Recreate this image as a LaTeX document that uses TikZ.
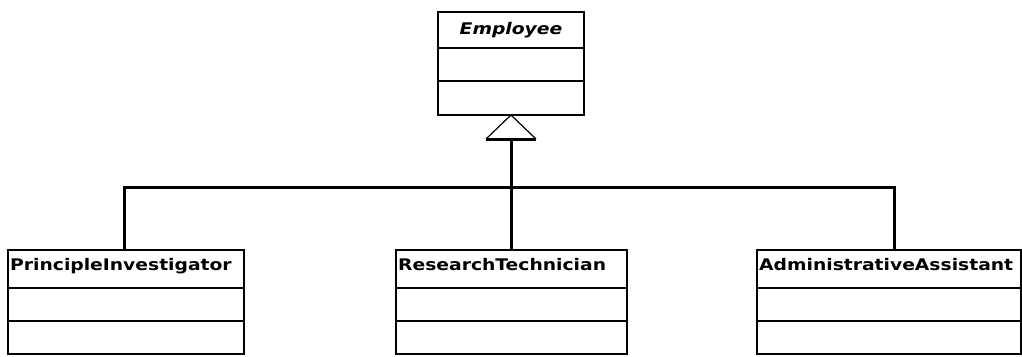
\documentclass[tikz,border=0pt]{standalone}
\usepackage{fontspec}
\newfontfamily\umlfont{DejaVu Sans}[FakeStretch=1.17]
\usetikzlibrary{calc}
\tikzset{
  classbox/.style={draw=black, line width=2.2pt, fill=white, anchor=north west, inner sep=0pt, outer sep=0pt},
  divider/.style={draw=black, line width=2.2pt},
  classname/.style={inner sep=0pt, font=\umlfont\fontsize{16}{18}\selectfont\bfseries},
  link/.style={draw=black, line width=3pt},
  tri/.style={draw=black, line width=1.2pt}
}
\begin{document}
\begin{tikzpicture}[x=1pt, y=-1pt]
  \useasboundingbox (0,0) rectangle (1022,356);

  % superclass
  \node[classbox, minimum width=146pt, minimum height=103pt] (emp) at (438,12) {};
  \draw[divider] ([yshift=-36pt]emp.north west) -- ([yshift=-36pt]emp.north east);
  \draw[divider] ([yshift=-69pt]emp.north west) -- ([yshift=-69pt]emp.north east);
  \node[classname, anchor=base] (empname) at ($(emp.north)+(0,22)$) {\itshape Employee};

  % subclasses
  \node[classbox, minimum width=236pt, minimum height=104pt] (pi) at (8,250) {};
  \node[classbox, minimum width=231pt, minimum height=104pt] (rt) at (396,250) {};
  \node[classbox, minimum width=264pt, minimum height=104pt] (aa) at (757,250) {};
  \foreach \c in {pi,rt,aa}{
    \draw[divider] ([yshift=-38pt]\c.north west) -- ([yshift=-38pt]\c.north east);
    \draw[divider] ([yshift=-71pt]\c.north west) -- ([yshift=-71pt]\c.north east);
  }
  \node[classname, anchor=base west] (piname) at ($(pi.north west)+(2,20)$) {PrincipleInvestigator};
  \node[classname, anchor=base west] (rtname) at ($(rt.north west)+(2,20)$) {ResearchTechnician};
  \node[classname, anchor=base west] (aaname) at ($(aa.north west)+(2,20)$) {AdministrativeAssistant};

  % generalization arrowhead
  \coordinate (tbase) at ($(emp.south)+(0,24)$);
  \coordinate (tl) at ($(tbase)+(-25,0)$);
  \coordinate (tr) at ($(tbase)+(25,0)$);
  \draw[tri] (tl) -- (emp.south) -- (tr);
  \draw[link] (tl) -- (tr);

  % inheritance tree
  \coordinate (bus) at ($(tbase)+(0,48)$);
  \coordinate (pitop) at ($(pi.north west)+(116,0)$);
  \coordinate (aatop) at ($(aa.north west)+(137,0)$);
  \draw[link] (tbase) -- (bus) -- (bus -| rt.north) -- (rt.north);
  \draw[link] (pitop) -- (pitop |- bus) -- (aatop |- bus) -- (aatop);
\end{tikzpicture}
\end{document}
